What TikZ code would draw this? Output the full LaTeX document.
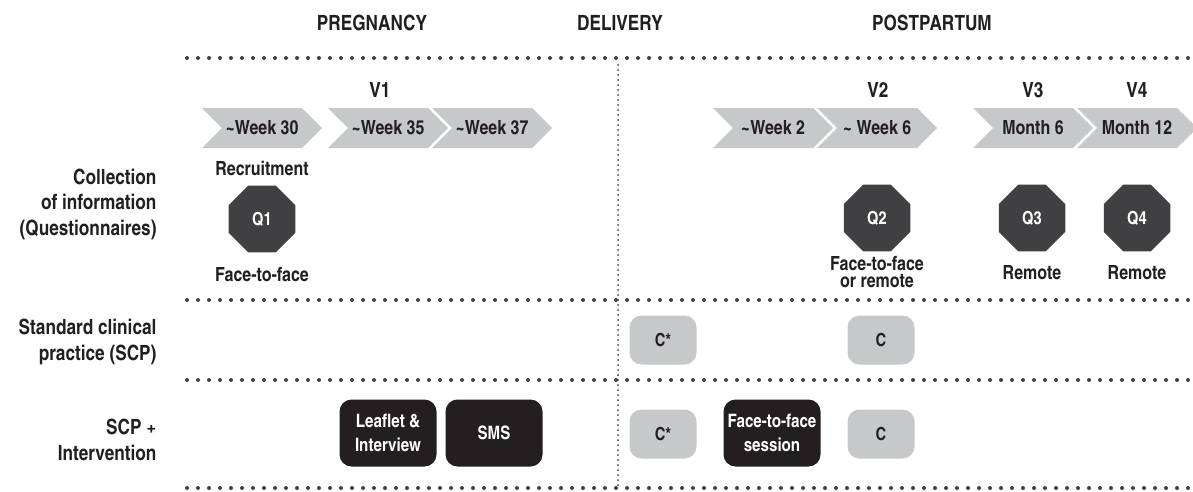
\documentclass[tikz,border=0pt]{standalone}
\usepackage{fontspec}
\setmainfont{texgyreheroscn-bold.otf}
\usetikzlibrary{shapes.symbols, shapes.geometric, positioning}
\definecolor{chevgray}{RGB}{199,200,202}
\definecolor{octgray}{RGB}{64,64,66}
\definecolor{boxblack}{RGB}{35,31,32}
\definecolor{inkblack}{RGB}{35,31,32}
\begin{document}
\begin{tikzpicture}[x=1pt, y=-1pt, text=inkblack,
                    phase/.style={font=\fontsize{21}{24}\selectfont},
                    visit/.style={font=\fontsize{21}{24}\selectfont},
                    timepoint/.style={signal, signal to=east, signal from=west,
                        signal pointer angle=90, fill=chevgray, inner sep=0pt,
                        minimum width=120pt, minimum height=40pt,
                        font=\fontsize{19.5}{22}\selectfont},
                    quest/.style={regular polygon, regular polygon sides=8,
                        fill=octgray, text=white, minimum size=72pt, inner sep=0pt,
                        font=\fontsize{18}{20}\selectfont},
                    note/.style={align=center, inner sep=1pt,
                        font=\fontsize{19.5}{17.5}\selectfont},
                    rowlabel/.style={anchor=east, align=right,
                        font=\fontsize{21}{25.5}\selectfont},
                    clinic/.style={rounded corners=12pt, fill=chevgray,
                        minimum width=67pt, minimum height=49pt,
                        font=\fontsize{18}{20}\selectfont},
                    interv/.style={rounded corners=12pt, fill=boxblack, text=white,
                        minimum width=97pt, minimum height=67pt, align=center,
                        font=\fontsize{18.5}{24}\selectfont},
                    sep/.style={draw=octgray, line width=4pt, line cap=round,
                        dash pattern=on 0pt off 11pt},
                    divider/.style={draw=octgray, line width=2pt, line cap=round,
                        dash pattern=on 0pt off 5pt}]
    \useasboundingbox (0,0) rectangle (1193,491);

    % phases
    \node[phase] (preg)     at (372,23)  {PREGNANCY};
    \node[phase] (deliv)    at (620,23)  {DELIVERY};
    \node[phase] (postpart) at (932,23)  {POSTPARTUM};

    % separators
    \foreach \y in {58, 300, 380, 488}
        \draw[sep] (187,\y) -- (1193,\y);
    \coordinate (divtop) at (618,65);
    \coordinate (divbot) at (618,488);
    \draw[divider] (divtop) -- (divbot);

    % time line
    \node[timepoint] (wk30) at (262,128)  {\textasciitilde Week 30};
    \node[timepoint] (wk35) at (388,128)  {\textasciitilde Week 35};
    \node[timepoint] (wk37) at (492,128)  {\textasciitilde Week 37};
    \node[timepoint] (wk2)  at (773,128)  {\textasciitilde Week 2};
    \node[timepoint] (wk6)  at (877,128)  {\textasciitilde{} Week 6};
    \node[timepoint] (m6)   at (1033,128) {Month 6};
    \node[timepoint] (m12)  at (1137,128) {Month 12};

    \node[visit] (v1) at (380,90)  {V1};
    \node[visit] (v2) at (878,90)  {V2};
    \node[visit] (v3) at (1033,90) {V3};
    \node[visit] (v4) at (1137,90) {V4};

    % row labels
    \node[rowlabel] (collect) at (160,204) {Collection\\of information\\(Questionnaires)};
    \node[rowlabel] (scp)     at (160,342) {Standard clinical\\practice (SCP)};
    \node[rowlabel] (scpint)  at (160,440) {SCP +\\Intervention};

    % questionnaires
    \node[note]  (recruit) at (262,168) {Recruitment};
    \node[quest] (q1) at (262,219)  {Q1};
    \node[quest] (q2) at (877,218)  {Q2};
    \node[quest] (q3) at (1032,218) {Q3};
    \node[quest] (q4) at (1137,218) {Q4};
    \node[note] (mode1) at (262,275)  {Face-to-face};
    \node[note] (mode2) at (877,272)  {Face-to-face\\or remote};
    \node[note] (mode3) at (1032,273) {Remote};
    \node[note] (mode4) at (1137,273) {Remote};

    % standard clinical practice
    \node[clinic] (cstar1) at (663,340) {C*};
    \node[clinic] (c1)     at (881,340) {C};

    % intervention
    \node[interv] (leaflet) at (388,433) {Leaflet \&\\Interview};
    \node[interv] (sms)     at (494,433) {SMS};
    \node[clinic] (cstar2)  at (663,434) {C*};
    \node[interv] (session) at (772,433) {Face-to-face\\session};
    \node[clinic] (c2)      at (881,434) {C};
\end{tikzpicture}
\end{document}
